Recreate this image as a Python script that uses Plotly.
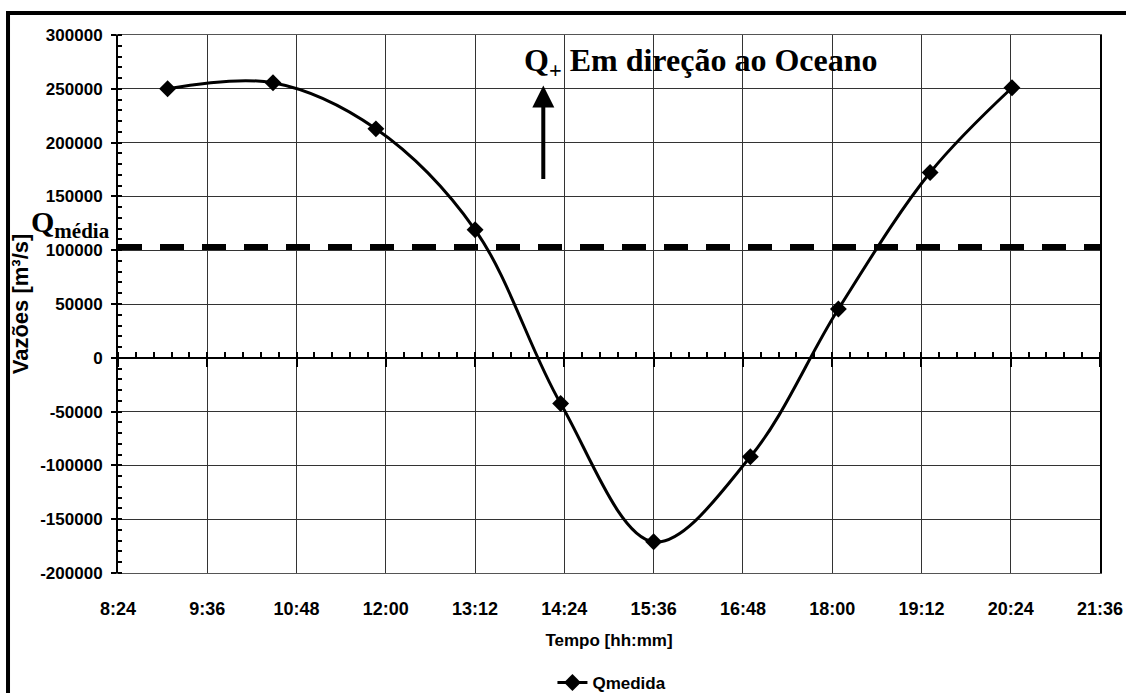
import plotly.graph_objects as go

# medições de vazão ao longo do dia
horas = ["09:04", "10:29", "11:52", "13:12", "14:21", "15:36", "16:54", "18:05", "19:19", "20:25"]
qmedida = [250000, 255600, 212800, 119000, -42500, -171000, -92000, 45300, 172200, 251000]
q_media = 103000

y_ticks = [300000, 250000, 200000, 150000, 100000, 50000, 0, -50000, -100000, -150000, -200000]
y_labels = ["300000", "250000", "200000", "150000", "100000", "50000", "0",
            "-50000", "-100000", "-150000", "-200000"]

dia = "2000-01-01 "
x = [dia + h for h in horas]
x_ini, x_fim = dia + "08:24", dia + "21:36"

sans = "Liberation Sans, Arial, sans-serif"
serif = "Liberation Serif, Times New Roman, serif"

fig = go.Figure()

fig.add_trace(go.Scatter(
    x=x, y=qmedida, name="Qmedida",
    mode="lines+markers",
    line=dict(color="black", width=3, shape="spline", smoothing=1),
    marker=dict(symbol="diamond", size=13, color="black"),
))

# linha da vazão média
fig.add_trace(go.Scatter(
    x=[x_ini, x_fim], y=[q_media, q_media],
    xaxis="x2", mode="lines", showlegend=False, hoverinfo="skip",
    line=dict(color="black", width=6, dash="24px,18px"),
))

fig.update_layout(
    width=1126, height=693,
    margin=dict(l=118, r=26, t=35, b=120, autoexpand=False),
    paper_bgcolor="white", plot_bgcolor="white",
    font=dict(family=sans, size=17, color="black"),
    showlegend=True,
    legend=dict(orientation="h", x=0.503, xanchor="center", y=-0.2045, yanchor="middle",
                font=dict(family=sans, size=17, color="black", weight="bold")),
    xaxis=dict(
        type="date", range=[x_ini, x_fim], automargin=False,
        tick0=x_ini, dtick=72 * 60 * 1000, tickformat="%-H:%M",
        showgrid=True, gridcolor="#333", gridwidth=1,
        showline=True, linecolor="#555", linewidth=1, mirror=True,
        ticks="", ticklabelstandoff=19, ticklabeloverflow="allow",
        tickfont=dict(family=sans, size=18, color="black", weight="bold"),
        title=dict(text="<b>Tempo [hh:mm]</b>", standoff=16,
                   font=dict(family=sans, size=17, color="black")),
    ),
    xaxis2=dict(
        type="date", matches="x", overlaying="x", anchor="free", position=0.4,
        range=[x_ini, x_fim], tick0=x_ini, dtick=72 * 60 * 1000,
        showgrid=False, showline=True, linecolor="black", linewidth=2,
        ticks="outside", ticklen=8, tickwidth=2, tickcolor="black",
        showticklabels=False,
        minor=dict(dtick=72 * 60 * 1000 / 5, ticks="inside", ticklen=5,
                   tickwidth=2, tickcolor="black"),
    ),
    yaxis=dict(
        range=[-200000, 300000], tickvals=y_ticks, ticktext=y_labels, automargin=False,
        showgrid=True, gridcolor="#333", gridwidth=1,
        zeroline=False,
        showline=True, linecolor="black", linewidth=2, mirror=True,
        ticks="outside", ticklen=5, tickwidth=2, tickcolor="black",
        ticklabelstandoff=5,
        minor=dict(dtick=10000, ticks="inside", ticklen=4, tickwidth=2, tickcolor="black"),
        tickfont=dict(family=sans, size=17, color="black", weight="bold"),
        title=dict(text="<b>Vazões [m³/s]</b>", standoff=6,
                   font=dict(family=sans, size=22, color="black")),
    ),
)

fig.add_annotation(
    x=0, y=q_media, xref="paper", yref="y",
    text="Q<sub>média</sub>", showarrow=False,
    xanchor="right", yanchor="bottom", xshift=-6, yshift=2,
    font=dict(family=serif, size=30, color="black", weight="bold"),
)

fig.add_annotation(
    x=dia + "14:07", y=274000, xref="x", yref="y",
    text="Q<sub>+</sub> Em direção ao Oceano", showarrow=False,
    xanchor="left", yanchor="middle", xshift=-21,
    font=dict(family=serif, size=32, color="black", weight="bold"),
)

fig.add_annotation(
    x=dia + "14:07", y=253000, xref="x", yref="y",
    ax=0, ay=95, text="", showarrow=True,
    arrowhead=2, arrowsize=1.1, arrowwidth=4, arrowcolor="black",
)

# moldura da figura
fig.add_shape(type="rect", xref="paper", yref="paper",
              x0=-0.112, x1=1.3, y0=-0.5, y1=1.0409,
              line=dict(color="black", width=4), layer="above")

# sem a margem padrão do body, a figura ocupa a janela inteira
fig.write_html("out.html", config={"displayModeBar": False},
               post_script="document.body.style.margin = '0';")
